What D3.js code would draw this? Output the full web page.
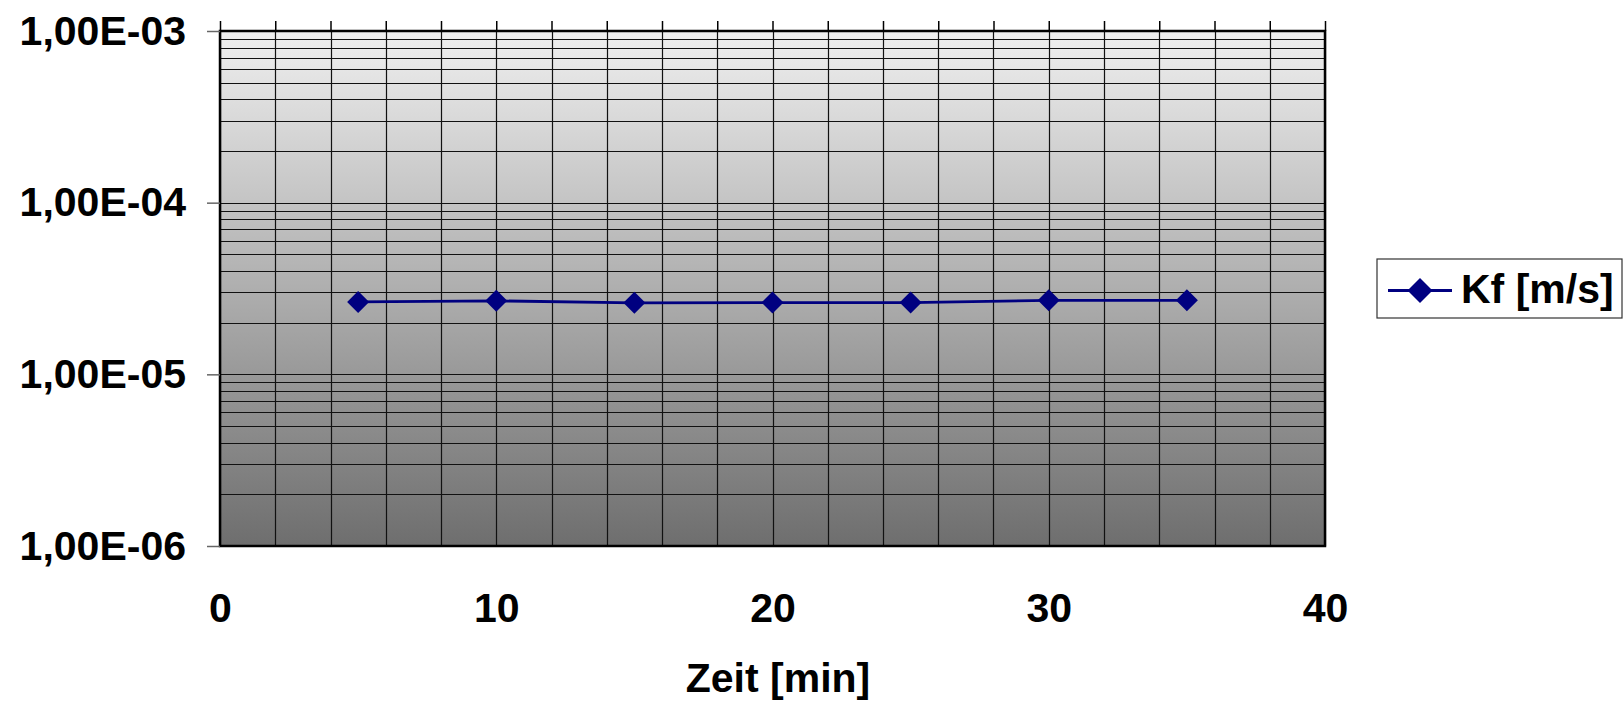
<!DOCTYPE html>
<html>
<head>
<meta charset="utf-8">
<script src="https://cdn.jsdelivr.net/npm/d3@7"></script>
<style>
  html, body { margin: 0; padding: 0; background: #fff; }
  svg { display: block; }
  text { font-family: "Liberation Sans", Arial, sans-serif; font-weight: bold; fill: #000; }
</style>
</head>
<body>
<svg id="chart" width="1623" height="702"></svg>
<script>
// ---- data ----
const times = [5, 10, 15, 20, 25, 30, 35];
const kfValues = [2.64e-5, 2.68e-5, 2.61e-5, 2.62e-5, 2.62e-5, 2.70e-5, 2.70e-5];
const seriesName = "Kf [m/s]";
const xTickLabels = [0, 10, 20, 30, 40];
const yTickLabels = [1e-6, 1e-5, 1e-4, 1e-3];
const xTitle = "Zeit [min]";

// ---- layout ----
const L = 220, R = 1325, T = 31, B = 546;
const svg = d3.select("#chart");

const x = d3.scaleLinear().domain([0, 40]).range([L, R]);
const y = d3.scaleLog().domain([1e-6, 1e-3]).range([B, T]);

// gradient background
const defs = svg.append("defs");
const grad = defs.append("linearGradient").attr("id", "bg")
  .attr("x1", 0).attr("y1", 0).attr("x2", 0).attr("y2", 1);
grad.append("stop").attr("offset", "0%").attr("stop-color", "#efefef");
grad.append("stop").attr("offset", "100%").attr("stop-color", "#6e6e6e");

svg.append("rect").attr("x", L).attr("y", T).attr("width", R - L).attr("height", B - T)
  .attr("fill", "url(#bg)");

// horizontal grid (log minor)
const yGrid = y.ticks();
svg.append("g").selectAll("line").data(yGrid).join("line")
  .attr("x1", L).attr("x2", R)
  .attr("y1", d => Math.round(y(d)) + 0.5).attr("y2", d => Math.round(y(d)) + 0.5)
  .attr("stroke", "#111").attr("stroke-width", 1.2);

// vertical grid
const xGrid = d3.range(0, 41, 2);
svg.append("g").selectAll("line").data(xGrid).join("line")
  .attr("x1", d => Math.round(x(d)) + 0.5).attr("x2", d => Math.round(x(d)) + 0.5)
  .attr("y1", T).attr("y2", B)
  .attr("stroke", "#111").attr("stroke-width", 1.2);

// top ticks
const topAxis = d3.axisTop(x).tickValues(xGrid).tickSize(10).tickFormat("");
svg.append("g").attr("transform", `translate(0,${T})`).call(topAxis)
  .call(g => g.select(".domain").remove())
  .call(g => g.selectAll(".tick line").attr("stroke", "#000").attr("stroke-width", 1.5));

// frame
svg.append("rect").attr("x", L).attr("y", T).attr("width", R - L).attr("height", B - T)
  .attr("fill", "none").attr("stroke", "#000").attr("stroke-width", 2.5);

// y axis
const fmtY = d => {
  const e = Math.round(Math.log10(d));
  return "1,00E-" + String(-e).padStart(2, "0");
};
const yAxis = d3.axisLeft(y).tickValues(yTickLabels).tickFormat(fmtY).tickSize(13).tickPadding(21);
svg.append("g").attr("transform", `translate(${L},0)`).call(yAxis)
  .call(g => g.select(".domain").remove())
  .call(g => g.selectAll(".tick line").attr("stroke", "#666").attr("stroke-width", 1.5))
  .call(g => g.selectAll(".tick text")
    .style("font-family", '"Liberation Sans", Arial, sans-serif')
    .style("font-weight", "bold").style("font-size", "41px").attr("fill", "#000"));

// x axis labels
const xAxis = d3.axisBottom(x).tickValues(xTickLabels).tickFormat(d3.format("d")).tickSize(0).tickPadding(47);
svg.append("g").attr("transform", `translate(0,${B})`).call(xAxis)
  .call(g => g.select(".domain").remove())
  .call(g => g.selectAll(".tick text")
    .style("font-family", '"Liberation Sans", Arial, sans-serif')
    .style("font-weight", "bold").style("font-size", "41px").attr("fill", "#000"));

// x title
svg.append("text").attr("x", 778).attr("y", 692).attr("text-anchor", "middle")
  .style("font-size", "41px").text(xTitle);

// series
const data = times.map((t, i) => ({ t, v: kfValues[i] }));
const line = d3.line().x(d => x(d.t)).y(d => y(d.v));
svg.append("path").datum(data).attr("d", line)
  .attr("fill", "none").attr("stroke", "#000080").attr("stroke-width", 2.8);

const diamond = (s) => `M0,${-s}L${s},0L0,${s}L${-s},0Z`;
svg.append("g").selectAll("path").data(data).join("path")
  .attr("transform", d => `translate(${x(d.t)},${y(d.v)})`)
  .attr("d", diamond(11)).attr("fill", "#000080");

// legend
const lg = svg.append("g");
lg.append("rect").attr("x", 1377).attr("y", 259).attr("width", 245).attr("height", 59)
  .attr("fill", "#fff").attr("stroke", "#333").attr("stroke-width", 1.2);
lg.append("line").attr("x1", 1388).attr("x2", 1452).attr("y1", 290.5).attr("y2", 290.5)
  .attr("stroke", "#000080").attr("stroke-width", 2.8);
lg.append("path").attr("transform", "translate(1420,290.5)").attr("d", diamond(12.5)).attr("fill", "#000080");
lg.append("text").attr("x", 1461).attr("y", 303).style("font-size", "41px").text(seriesName);
</script>
</body>
</html>
